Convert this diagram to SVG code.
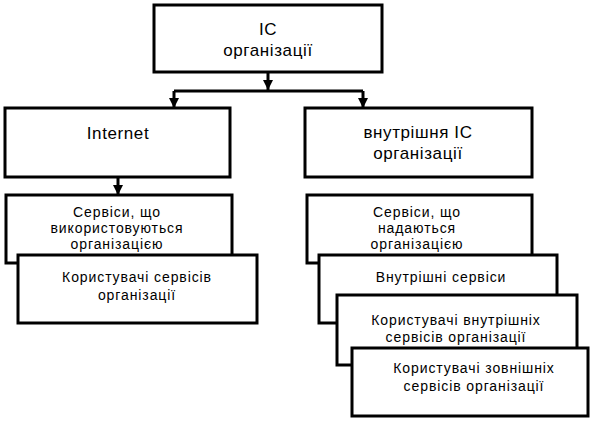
<svg xmlns="http://www.w3.org/2000/svg" width="597" height="422" viewBox="0 0 597 422">
<defs>
<marker id="ah" viewBox="0 0 10 10" refX="10" refY="5" markerWidth="10" markerHeight="10" markerUnits="userSpaceOnUse" orient="auto">
<path d="M0,0 L10,5 L0,10 z" fill="#000"/>
</marker>
<style>
.box{fill:#fff;stroke:#000;stroke-width:3}
.t{font-family:"Liberation Sans",Arial,sans-serif;font-size:14px;fill:#000;text-anchor:middle;letter-spacing:0.9px}
.h{font-size:17px;letter-spacing:0.6px}
.c{fill:none;stroke:#000;stroke-width:3}
</style>
</defs>
<g id="n-ic">
<rect class="box" x="154" y="5" width="228" height="67"/>
<text class="t h" x="268" y="35">IC</text>
<text class="t h" x="268" y="56">організації</text>
</g>
<g id="n-internet">
<rect class="box" x="5" y="108" width="225" height="69"/>
<text class="t h" x="118" y="139">Internet</text>
</g>
<g id="n-internal">
<rect class="box" x="305" y="108" width="227" height="69"/>
<text class="t h" x="418" y="138">внутрішня IC</text>
<text class="t h" x="418" y="159">організації</text>
</g>
<g id="n-used">
<rect class="box" x="6" y="195" width="226" height="68"/>
<text class="t" x="117" y="217">Сервіси, що</text>
<text class="t" x="117" y="233">використовуються</text>
<text class="t" x="117" y="249">організацією</text>
</g>
<g id="n-users">
<rect class="box" x="18" y="255" width="239" height="68"/>
<text class="t" x="137" y="282">Користувачі сервісів</text>
<text class="t" x="137" y="300">організації</text>
</g>
<g id="n-provided">
<rect class="box" x="307" y="195" width="225" height="68"/>
<text class="t" x="417" y="217">Сервіси, що</text>
<text class="t" x="417" y="233">надаються</text>
<text class="t" x="417" y="249">організацією</text>
</g>
<g id="n-inner">
<rect class="box" x="319" y="255" width="238" height="68"/>
<text class="t" x="441" y="282">Внутрішні сервіси</text>
</g>
<g id="n-users-inner">
<rect class="box" x="337" y="295" width="240" height="70"/>
<text class="t" x="456" y="325">Користувачі внутрішніх</text>
<text class="t" x="456" y="342">сервісів організації</text>
</g>
<g id="n-users-outer">
<rect class="box" x="352" y="348" width="236" height="68"/>
<text class="t" x="474" y="373">Користувачі зовнішніх</text>
<text class="t" x="474" y="391">сервісів організації</text>
</g>
<g id="connectors">
<path class="c" d="M268,72 V90" marker-end="url(#ah)"/>
<path class="c" d="M174,91 H363"/>
<path class="c" d="M174,91 V108" marker-end="url(#ah)"/>
<path class="c" d="M363,91 V108" marker-end="url(#ah)"/>
<path class="c" d="M118,177 V195" marker-end="url(#ah)"/>
</g>
</svg>
